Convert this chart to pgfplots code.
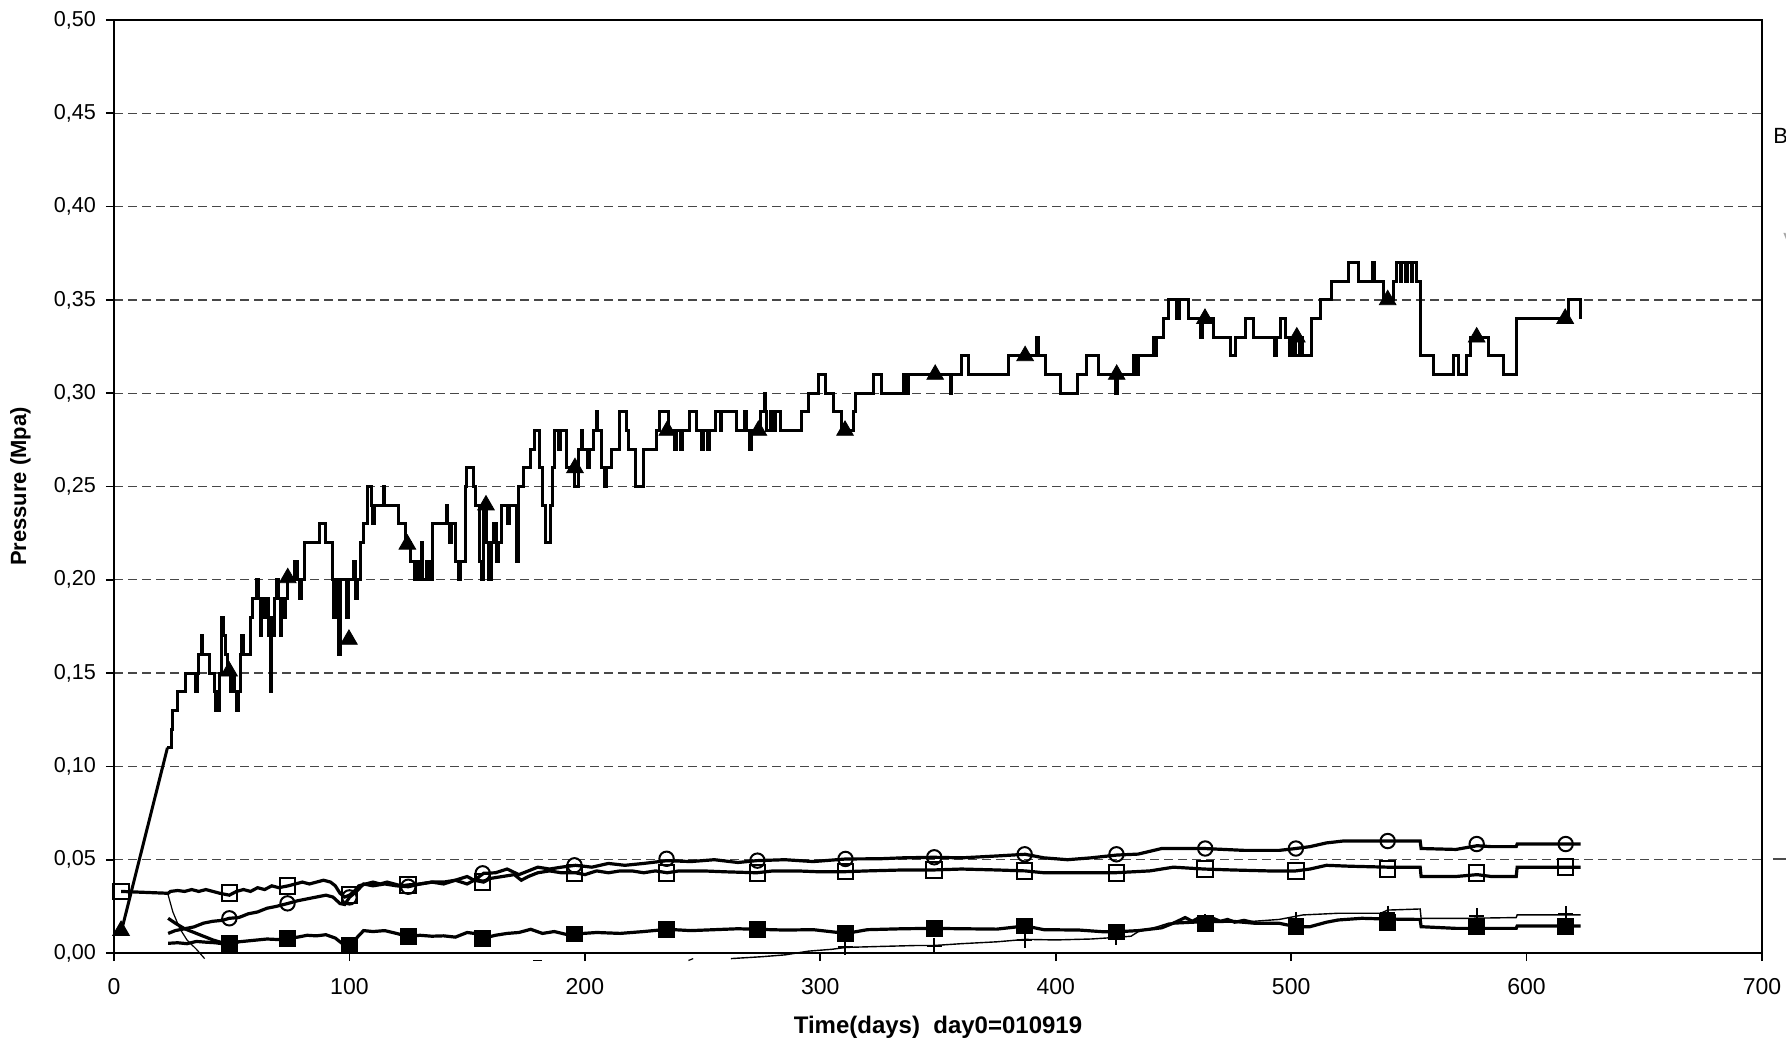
\documentclass[border=0pt]{standalone}
\usepackage{fontspec}
\setmainfont{Liberation Sans}
\usepackage{pgfplots}
\pgfplotsset{compat=1.18}
\begin{document}
\begin{tikzpicture}
\begin{axis}[
 scale only axis, width=824pt, height=466.5pt,
 at={(0pt,0pt)}, anchor=south west,
 xmin=0, xmax=700, ymin=0, ymax=0.5,
 xtick={0,100,200,300,400,500,600,700},
 ytick={0,0.05,0.1,0.15,0.2,0.25,0.3,0.35,0.4,0.45,0.5},
 tick pos=left, tick align=outside, major tick length=4pt,
 tick style={black, line width=0.8pt},
 ymajorgrids,
 grid style={black!72, line width=0.65pt, dash pattern=on 4.5pt off 2.5pt},
 /pgf/number format/assume math mode=true,
 yticklabel style={xshift=-1.5pt, font=\fontsize{10.8}{13}\selectfont, /pgf/number format/.cd, fixed, fixed zerofill, precision=2, use comma},
 xticklabel style={yshift=-5pt, font=\fontsize{11.5}{13}\selectfont, /pgf/number format/.cd, fixed, precision=0},
 xlabel={Time(days)\ \ day0=010919},
 ylabel={Pressure (Mpa)},
 xlabel style={at={(axis description cs:0.5,0)}, anchor=center, yshift=-37pt, font=\bfseries\fontsize{12}{14}\selectfont},
 ylabel style={at={(axis description cs:-0.0567,0.5)}, anchor=center, font=\bfseries\fontsize{11}{13}\selectfont},
 axis line style={line width=1pt},
 clip=false,
]
% main series, initial ramp
\addplot[black, line width=1.5pt] coordinates {(3,0.011)(22.7,0.11)};
% main series, steps
\addplot[black, line width=1.5pt, const plot] coordinates {
(22.7,0.11)(24.4,0.12)(24.8,0.13)(26.9,0.14)(30.4,0.15)(34.7,0.14)(35.3,0.15)(36.1,0.16)(37.3,0.17)(37.8,0.16)
(40.4,0.15)(42.5,0.14)(43.0,0.13)(43.6,0.14)(44.2,0.13)(44.8,0.15)(45.8,0.18)(46.5,0.17)(47.2,0.16)(48.0,0.15)
(49.4,0.14)(50.2,0.15)(51.2,0.14)(52.2,0.13)(52.8,0.14)(53.8,0.16)(54.2,0.17)(55.0,0.16)(58.1,0.18)(58.8,0.19)
(60.7,0.20)(61.3,0.19)(62.2,0.17)(62.8,0.19)(63.6,0.18)(64.6,0.19)(65.8,0.17)(66.3,0.14)(66.9,0.18)(67.6,0.17)
(68.3,0.19)(69.2,0.20)(69.8,0.19)(70.6,0.17)(71.3,0.19)(72.3,0.18)(73.0,0.19)(73.8,0.20)(76.5,0.21)(78.0,0.20)
(78.6,0.19)(79.8,0.20)(81.0,0.22)(87.1,0.23)(89.9,0.22)(92.7,0.20)(93.3,0.18)(94.2,0.20)(95.5,0.16)(96.3,0.20)
(98.8,0.18)(99.6,0.20)(101.7,0.21)(102.5,0.19)(103.5,0.20)(104.8,0.22)(105.8,0.23)(107.6,0.25)(109.2,0.24)(110.0,0.23)
(110.6,0.24)(114.5,0.25)(115.0,0.24)(121.0,0.23)(123.9,0.22)(126.0,0.21)(127.5,0.20)(128.3,0.21)(129.3,0.20)(130.4,0.22)
(131.2,0.20)(132.6,0.21)(134.2,0.20)(135.2,0.23)(141.2,0.24)(141.8,0.23)(142.3,0.22)(143.2,0.23)(145.2,0.21)(146.2,0.20)
(147.2,0.21)(149.1,0.25)(149.8,0.26)(152.6,0.25)(153.5,0.24)(155.4,0.21)(156.2,0.20)(157.0,0.24)(158.4,0.22)(159.2,0.20)
(160.2,0.22)(161.4,0.23)(162.4,0.21)(163.2,0.22)(164.6,0.24)(167.0,0.23)(168.0,0.24)(171.0,0.21)(171.7,0.25)(174.0,0.26)
(176.7,0.27)(178.8,0.28)(180.9,0.26)(182.0,0.24)(183.3,0.22)(185.2,0.24)(186.2,0.26)(187.3,0.28)(189.0,0.27)(189.6,0.28)
(192.3,0.26)(195.8,0.25)(197.2,0.27)(198.4,0.28)(199.0,0.27)(201.3,0.26)(202.0,0.27)(203.6,0.28)(204.8,0.29)(205.4,0.28)
(207.1,0.26)(208.2,0.25)(209.0,0.26)(211.4,0.27)(214.9,0.29)(217.7,0.28)(218.6,0.27)(221.3,0.25)(224.8,0.27)(230.5,0.28)
(231.9,0.29)(235.4,0.28)(238.0,0.27)(238.8,0.28)(240.5,0.27)(241.3,0.28)(244.6,0.29)(247.5,0.28)(249.5,0.27)(250.3,0.28)
(252.0,0.27)(253.0,0.28)(255.3,0.29)(257.5,0.28)(258.2,0.29)(264.5,0.28)(268.0,0.29)(268.6,0.28)(270.1,0.27)(270.8,0.28)
(274.4,0.29)(276.3,0.30)(276.9,0.29)(277.2,0.28)(279.0,0.29)(280.0,0.28)(281.0,0.29)(282.9,0.28)(292.1,0.29)(294.9,0.30)
(299.2,0.31)(302.0,0.30)(305.5,0.29)(309.1,0.28)(314.1,0.29)(314.8,0.30)(322.6,0.31)(326.1,0.30)(335.3,0.31)(336.8,0.30)
(337.5,0.31)(355.1,0.30)(355.6,0.31)(360.1,0.32)(362.9,0.31)(379.9,0.32)(392.0,0.33)(392.8,0.32)(395.5,0.31)(401.9,0.30)
(409.2,0.31)(413.2,0.32)(418.1,0.31)(425.5,0.30)(426.3,0.31)(433.0,0.32)(434.5,0.31)(435.2,0.32)(441.5,0.33)(442.5,0.32)
(443.0,0.33)(445.8,0.34)(447.9,0.35)(451.5,0.34)(452.5,0.35)(456.4,0.34)(461.5,0.33)(462.3,0.34)(467.0,0.33)(474.1,0.32)
(476.2,0.33)(480.4,0.34)(484.0,0.33)(493.0,0.32)(493.6,0.33)(495.3,0.34)(497.4,0.33)(499.5,0.32)(500.5,0.33)(502.0,0.32)
(503.5,0.33)(504.8,0.32)(508.7,0.34)(512.3,0.35)(517.2,0.36)(524.3,0.37)(528.6,0.36)(534.6,0.37)(535.2,0.36)(539.2,0.35)
(543.4,0.36)(544.9,0.37)(546.4,0.36)(547.0,0.37)(548.6,0.36)(549.3,0.37)(551.0,0.36)(551.6,0.37)(553.4,0.36)(554.8,0.32)
(560.4,0.31)(568.9,0.32)(571.1,0.31)(574.6,0.32)(576.0,0.33)(583.8,0.32)(590.2,0.31)(595.8,0.34)(617.8,0.35)(622.7,0.34)
};
\addplot[only marks, black, mark=triangle*, mark size=4.8pt] coordinates {
(3,0.012)(48.9,0.151)(73.8,0.201)(99.8,0.168)(124.6,0.219)(158,0.240)(195.8,0.260)(235,0.280)(273.7,0.280)(310.5,0.280)
(348.8,0.310)(387,0.320)(425.9,0.310)(463.4,0.340)(502.4,0.330)(541,0.350)(578.8,0.330)(616.4,0.340)};
% open squares series
\addplot[black, line width=1.6pt] coordinates {
(3,0.033)(23,0.032)(24,0.033)(27,0.0335)(30,0.033)(33,0.034)(36,0.033)(39,0.034)(42,0.033)(45,0.032)(49,0.031)
(52,0.033)(55,0.034)(58,0.033)(61,0.035)(64,0.034)(67,0.036)(70,0.035)(74,0.036)(77,0.037)(80,0.038)(83,0.037)
(86,0.038)(89,0.039)(92,0.038)(94,0.036)(96,0.032)(98,0.030)(100,0.031)(102,0.033)(104,0.036)(107,0.037)(110,0.038)
(113,0.037)(116,0.038)(119,0.037)(122,0.036)(125,0.0365)(130,0.037)(135,0.038)(140,0.038)(145,0.039)(150,0.037)
(153,0.039)(157,0.038)(160,0.040)(165,0.041)(170,0.042)(173,0.039)(176,0.041)(180,0.043)(185,0.044)(190,0.043)
(196,0.043)(200,0.042)(205,0.044)(210,0.043)(215,0.044)(220,0.044)(225,0.043)(230,0.044)(235,0.043)(240,0.044)
(250,0.044)(260,0.0435)(273,0.043)(280,0.044)(290,0.044)(300,0.0435)(311,0.0436)(320,0.044)(335,0.0445)(348,0.0445)
(360,0.045)(375,0.0445)(387,0.044)(395,0.043)(410,0.043)(425,0.043)(440,0.044)(450,0.046)(463,0.045)(475,0.0445)
(490,0.044)(502,0.044)(508,0.045)(515,0.047)(525,0.0465)(541,0.046)(554.8,0.046)(555.2,0.041)(570,0.041)(579,0.042)
(585,0.041)(595.6,0.041)(596,0.046)(617,0.046)(623,0.046)};
\addplot[only marks, black, mark=square, mark size=3.9pt, mark options={line width=1pt}] coordinates {
(3,0.033)(49,0.032)(73.7,0.036)(100,0.031)(125,0.0365)(156.6,0.038)(195.6,0.043)(234.7,0.043)(273.3,0.043)
(310.7,0.0436)(348.4,0.0445)(386.8,0.044)(425.8,0.043)(463.5,0.045)(502,0.044)(541,0.045)(578.8,0.043)(616.6,0.046)};
% open circles series
\addplot[black, line width=1.6pt] coordinates {
(23,0.0105)(26,0.012)(30,0.013)(34,0.014)(38,0.016)(42,0.017)(46,0.0175)(49,0.0186)(53,0.019)(57,0.021)(61,0.022)
(65,0.024)(69,0.025)(74,0.0266)(78,0.028)(82,0.029)(86,0.030)(90,0.031)(93,0.030)(96,0.0265)(98,0.026)(100,0.0298)
(103,0.033)(106,0.037)(110,0.036)(115,0.037)(120,0.036)(125,0.0355)(130,0.037)(135,0.038)(140,0.037)(145,0.039)
(150,0.041)(153,0.039)(157,0.0427)(162,0.043)(167,0.045)(172,0.042)(176,0.044)(180,0.046)(185,0.045)(190,0.046)
(196,0.047)(203,0.046)(210,0.048)(217,0.047)(225,0.048)(235,0.0495)(245,0.049)(255,0.050)(265,0.0485)(273,0.0495)
(285,0.050)(297,0.049)(311,0.0504)(325,0.0505)(335,0.051)(348,0.0513)(360,0.051)(375,0.052)(387,0.0529)(395,0.051)
(405,0.050)(415,0.051)(426,0.0525)(435,0.053)(445,0.056)(463,0.056)(480,0.055)(495,0.055)(502,0.056)(508,0.057)
(515,0.059)(522,0.060)(541,0.060)(554.8,0.060)(555.2,0.056)(570,0.0555)(579,0.0575)(585,0.057)(595.6,0.057)(596,0.0584)(623,0.0584)};
\addplot[only marks, black, mark=o, mark size=3.6pt, mark options={line width=1pt}] coordinates {
(49,0.0186)(73.7,0.0266)(100,0.0298)(125,0.0355)(156.6,0.0427)(195.6,0.047)(234.7,0.0505)(273.3,0.0495)(310.7,0.0504)
(348.4,0.0513)(386.8,0.0529)(425.8,0.0529)(463.5,0.056)(502,0.056)(541,0.060)(578.8,0.0584)(616.6,0.0584)};
% filled squares series
\addplot[black, line width=1.6pt] coordinates {
(23,0.0052)(27,0.0055)(31,0.005)(35,0.0062)(39,0.0058)(43,0.0055)(46,0.005)(49,0.0052)(53,0.006)(57,0.0065)(61,0.007)
(65,0.0075)(70,0.0072)(74,0.0079)(78,0.0085)(82,0.0095)(86,0.0092)(90,0.0098)(94,0.008)(97,0.005)(100,0.0043)
(103,0.008)(106,0.012)(110,0.0115)(115,0.012)(120,0.0105)(125,0.0088)(130,0.0095)(135,0.009)(140,0.0092)(145,0.0085)
(150,0.011)(153,0.0105)(157,0.0079)(162,0.0095)(167,0.0105)(172,0.011)(177,0.0127)(182,0.0105)(187,0.0115)(192,0.010)
(196,0.0102)(205,0.011)(215,0.0105)(225,0.0115)(235,0.0127)(245,0.012)(255,0.0125)(265,0.013)(273,0.0127)(285,0.0123)
(297,0.0125)(311,0.0105)(320,0.0125)(335,0.013)(348,0.0132)(360,0.013)(375,0.0128)(387,0.0145)(395,0.0125)(410,0.0123)
(420,0.0114)(426,0.0114)(435,0.012)(445,0.0135)(450,0.016)(463,0.0168)(475,0.017)(485,0.0159)(495,0.0159)(502,0.0141)
(508,0.0141)(515,0.0165)(520,0.0177)(530,0.0186)(541,0.0182)(554.8,0.018)(555.2,0.0141)(570,0.0132)(585,0.0132)
(595.6,0.0132)(596,0.0145)(623,0.0145)};
\addplot[black, line width=1.6pt] coordinates {
(23,0.0186)(26,0.016)(30,0.013)(34,0.011)(38,0.009)(42,0.007)(46,0.0055)(49,0.005)(53,0.006)};
\addplot[black, line width=1.6pt] coordinates {
(450,0.016)(455,0.019)(458,0.017)(461,0.019)(464,0.0175)(467,0.0185)(470,0.017)(473,0.018)(476,0.0165)(480,0.0175)(485,0.016)};
\addplot[only marks, black, mark=square*, mark size=3.9pt] coordinates {
(49,0.0052)(73.7,0.0079)(100,0.0043)(125,0.0088)(156.6,0.0079)(195.6,0.0102)(234.7,0.0127)(273.3,0.0127)(310.7,0.0105)
(348.4,0.0132)(386.8,0.0145)(425.8,0.0114)(463.5,0.016)(502,0.0141)(541,0.0164)(578.8,0.0141)(616.6,0.0141)};
% thin series
\addplot[black, line width=0.6pt] coordinates {
(22.8,0.032)(25,0.022)(28,0.013)(31,0.007)(35,0.002)(38.5,-0.003)};
\addplot[black, line width=0.6pt] coordinates {(178,-0.004)(182,-0.004)};
\addplot[black, line width=0.6pt] coordinates {(244,-0.004)(246,-0.003)};
\addplot[black, line width=0.7pt] coordinates {
(262,-0.003)(275,-0.002)(285,-0.001)(295,0.001)(305,0.002)(311,0.003)(325,0.0035)(340,0.004)(348,0.004)(360,0.005)
(375,0.006)(387,0.0073)(400,0.007)(415,0.0075)(426,0.0084)(432,0.009)(435,0.0114)(443,0.014)(448,0.016)(460,0.0168)
(482,0.0168)(495,0.018)(505,0.0204)(520,0.0213)(538,0.0213)(541,0.023)(554.8,0.0236)(555.2,0.0186)(575,0.0186)
(595.6,0.019)(596,0.0204)(623,0.0204)};
\addplot[only marks, black, mark=+, mark size=3.8pt, mark options={line width=1pt}] coordinates {
(310.7,0.003)(348.4,0.004)(386.8,0.007)(425.8,0.0084)(463.5,0.0168)(502,0.018)(541,0.0213)(578.8,0.020)(616.6,0.021)};
\end{axis}
% cut-off legend remnants at the right edge
\node[anchor=west, inner sep=0pt, font=\fontsize{11}{13}\selectfont] at (829.5pt,408.75pt) {B};
\node[anchor=west, inner sep=0pt, text=black!35, font=\fontsize{11}{13}\selectfont] at (834.5pt,356pt) {V};
\draw[black!70, line width=0.7pt] (829.5pt,47pt) -- (840pt,47pt);
\pgfresetboundingbox
\path[use as bounding box] (-57pt,-43pt) rectangle (836pt,476.5pt);
\end{tikzpicture}
\end{document}
